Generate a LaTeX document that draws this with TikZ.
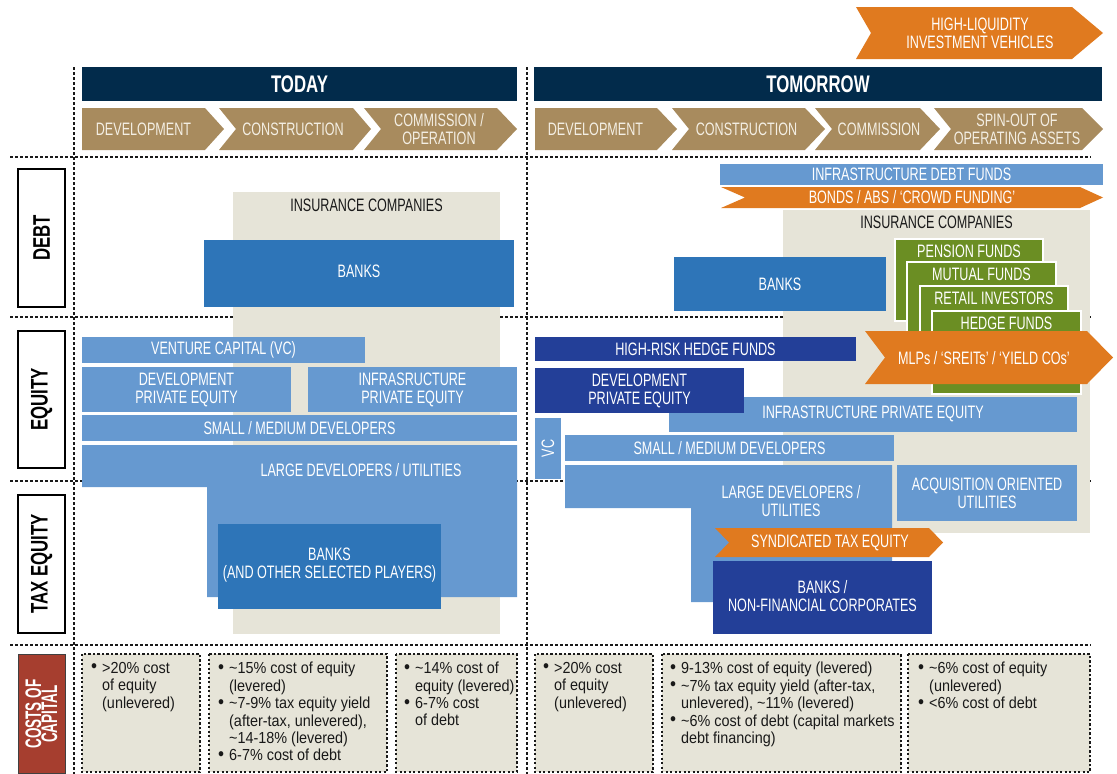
\documentclass[tikz,border=0pt]{standalone}
\usepackage{fontspec}
\setmainfont{Liberation Sans}[FakeStretch=0.7]
\newfontfamily\costfont{Liberation Sans}[FakeStretch=0.9]
\newfontfamily\narrowfont{Liberation Sans}[FakeStretch=0.6]
\usepackage{tikz}

\definecolor{navy}{HTML}{022B4B}
\definecolor{tan}{HTML}{A88B5E}
\definecolor{chevwhite}{HTML}{F4EFE4}
\definecolor{orng}{HTML}{E07A1F}
\definecolor{bankblue}{HTML}{2E75B8}
\definecolor{lightblue}{HTML}{6699D0}
\definecolor{darkblue}{HTML}{233F98}
\definecolor{olive}{HTML}{6B8E23}
\definecolor{beige}{HTML}{E6E4D8}
\definecolor{brick}{HTML}{A63E2F}

\newcommand{\bul}{\makebox[11pt][l]{\raisebox{0.5pt}{\fontsize{19}{17}\selectfont •}}}
\newcommand{\cind}{\hspace*{11pt}}

\tikzset{
  dotline/.style={line width=2.8pt, dash pattern=on 2.6pt off 2.4pt, black!90},
  costbox/.style={fill=beige, draw=black!90, line width=2.2pt, dash pattern=on 2.2pt off 2.3pt},
  boxtext/.style={text=white, align=center, inner sep=0pt, font=\fontsize{18}{18}\selectfont},
  chevtext/.style={text=chevwhite, align=center, inner sep=0pt, font=\fontsize{18}{18}\selectfont},
  headtext/.style={text=white, inner sep=0pt, font=\fontsize{24}{24}\selectfont\bfseries},
  sidelabel/.style={rotate=90, inner sep=0pt, align=center, font=\fontsize{24}{24}\selectfont\bfseries},
  costtext/.style={anchor=north west, align=left, inner sep=0pt, text=black!90, font=\costfont\fontsize{16}{17.4}\selectfont},
}

\begin{document}
\begin{tikzpicture}[x=1pt, y=-1pt]
    \useasboundingbox (0,0) rectangle (1117,774);

    % grid of dotted lines
    \draw [dotline] (74,67) -- (74,774);
    \draw [dotline] (527,67) -- (527,774);
    \draw [dotline] (10,157) -- (1091,157);
    \draw [dotline] (10,317) -- (1091,317);
    \draw [dotline] (10,481) -- (1091,481);
    \draw [dotline] (10,645) -- (1091,645);

    % insurance companies backgrounds
    \fill [beige] (233,192) rectangle (500,634);
    \node [text=black!90, inner sep=0pt, font=\fontsize{18}{18}\selectfont] (tins) at (366.5,205) {INSURANCE COMPANIES};
    \fill [beige] (783,210) rectangle (1090,533);
    \node [text=black!90, inner sep=0pt, font=\fontsize{18}{18}\selectfont] (mins) at (936.5,222) {INSURANCE COMPANIES};

    % row labels
    \draw [line width=1.5pt, fill=white] (18,169) rectangle (65,307);
    \node [sidelabel] (debt) at (41.5,238) {DEBT};
    \draw [line width=1.5pt, fill=white] (18,331) rectangle (65,468);
    \node [sidelabel] (equity) at (41.5,399.5) {EQUITY};
    \draw [line width=1.5pt, fill=white] (18,495) rectangle (65,633);
    \node [sidelabel] (taxeq) at (41.5,564) {TAX EQUITY};
    \draw [line width=1pt, draw=black!75, fill=brick] (18,654) rectangle (65,773);
    \node [sidelabel, text=white, font=\narrowfont\fontsize{22.5}{16}\selectfont\bfseries] (costs) at (41.5,714) {COSTS OF\\CAPITAL};

    % headers
    \fill [navy] (82,67) rectangle (517,101);
    \node [headtext] (today) at (299.5,84) {TODAY};
    \fill [navy] (534,67) rectangle (1102,101);
    \node [headtext] (tomorrow) at (818,84) {TOMORROW};

    \fill [orng] (856,7) -- (1072,7) -- (1103,33) -- (1072,59) -- (856,59) -- (871,33) -- cycle;
    \node [boxtext] (liquid) at (980,33) {HIGH-LIQUIDITY\\INVESTMENT VEHICLES};

    % stages today
    \fill [tan] (82,108) -- (205,108) -- (224,129) -- (205,150) -- (82,150) -- cycle;
    \fill [tan] (219,108) -- (353,108) -- (371,129) -- (353,150) -- (219,150) -- (236,129) -- cycle;
    \fill [tan] (364,108) -- (497,108) -- (517,129) -- (497,150) -- (364,150) -- (381,129) -- cycle;
    \node [chevtext] (tdev) at (143.5,129) {DEVELOPMENT};
    \node [chevtext] (tcon) at (293,129) {CONSTRUCTION};
    \node [chevtext] (tcom) at (439,129) {COMMISSION /\\OPERATION};

    % stages tomorrow
    \fill [tan] (535,108) -- (657,108) -- (677,129) -- (657,150) -- (535,150) -- cycle;
    \fill [tan] (672,108) -- (805,108) -- (825,129) -- (805,150) -- (672,150) -- (689,129) -- cycle;
    \fill [tan] (815,108) -- (920,108) -- (940,129) -- (920,150) -- (815,150) -- (832,129) -- cycle;
    \fill [tan] (934,108) -- (1082,108) -- (1103,129) -- (1082,150) -- (934,150) -- (951,129) -- cycle;
    \node [chevtext] (mdev) at (595.5,129) {DEVELOPMENT};
    \node [chevtext] (mcon) at (746.5,129) {CONSTRUCTION};
    \node [chevtext] (mcom) at (879,129) {COMMISSION};
    \node [chevtext] (mspin) at (1017,129) {SPIN-OUT OF\\OPERATING ASSETS};

    % today players
    \fill [bankblue] (204,240) rectangle (514,307);
    \node [boxtext] (tbanks) at (359,271) {BANKS};
    \fill [lightblue] (82,337) rectangle (365,363);
    \node [boxtext] (tvc) at (223.5,350) {VENTURE CAPITAL (VC)};
    \fill [lightblue] (82,367) rectangle (291,412);
    \node [boxtext] (tdevpe) at (186.5,389.5) {DEVELOPMENT\\PRIVATE EQUITY};
    \fill [lightblue] (308,367) rectangle (517,412);
    \node [boxtext] (tinfpe) at (412.5,389.5) {INFRASRUCTURE\\PRIVATE EQUITY};
    \fill [lightblue] (82,415) rectangle (517,441);
    \node [boxtext] (tsmall) at (299.5,428) {SMALL / MEDIUM DEVELOPERS};
    \fill [lightblue] (82,445) -- (517,445) -- (517,597) -- (207,597) -- (207,487) -- (82,487) -- cycle;
    \node [boxtext] (tlarge) at (361,470) {LARGE DEVELOPERS / UTILITIES};
    \fill [bankblue] (218,524) rectangle (441,609);
    \node [boxtext] (ttaxbanks) at (329.5,565) {BANKS\\(AND OTHER SELECTED PLAYERS)};

    % tomorrow players, debt
    \fill [lightblue] (720,164) rectangle (1103,185);
    \node [boxtext] (mdebtf) at (911.5,174.5) {INFRASTRUCTURE DEBT FUNDS};
    \fill [orng] (721,187) -- (1080,187) -- (1103,197.5) -- (1080,208) -- (721,208) -- (745,197.5) -- cycle;
    \node [boxtext] (mbonds) at (912,197.5) {BONDS / ABS / ‘CROWD FUNDING’};
    \fill [bankblue] (674,257) rectangle (886,311);
    \node [boxtext] (mbanks) at (780,284) {BANKS};

    \draw [fill=olive, draw=white, line width=1.5pt] (895,239) rectangle (1043,321);
    \node [boxtext] (pension) at (969,251) {PENSION FUNDS};
    \draw [fill=olive, draw=white, line width=1.5pt] (907,262) rectangle (1056,345);
    \node [boxtext] (mutual) at (981.5,274) {MUTUAL FUNDS};
    \draw [fill=olive, draw=white, line width=1.5pt] (920,286) rectangle (1068,370);
    \node [boxtext] (retail) at (994,298) {RETAIL INVESTORS};
    \draw [fill=olive, draw=white, line width=1.5pt] (932,311) rectangle (1081,394);
    \node [boxtext] (hedge) at (1006.5,323) {HEDGE FUNDS};
    \fill [orng] (865,331) -- (1087,331) -- (1113,357.5) -- (1087,384) -- (865,384) -- (885,357.5) -- cycle;
    \node [boxtext] (mlps) at (984,358) {MLPs / ‘SREITs’ / ‘YIELD COs’};

    % tomorrow players, equity
    \fill [darkblue] (535,337) rectangle (856,361);
    \node [boxtext] (mhrisk) at (695.5,349) {HIGH-RISK HEDGE FUNDS};
    \fill [lightblue] (669,397) rectangle (1077,432);
    \node [boxtext] (minfpe) at (873,414) {INFRASTRUCTURE PRIVATE EQUITY};
    \fill [darkblue] (535,368) rectangle (744,413);
    \node [boxtext] (mdevpe) at (639.5,390.5) {DEVELOPMENT\\PRIVATE EQUITY};
    \fill [lightblue] (535,418) rectangle (561,479);
    \node [boxtext, rotate=90] (mvc) at (548,448.5) {VC};
    \fill [lightblue] (565,435) rectangle (894,461);
    \node [boxtext] (msmall) at (729.5,448) {SMALL / MEDIUM DEVELOPERS};
    \fill [lightblue] (565,465) -- (892,465) -- (892,602) -- (691,602) -- (691,508) -- (565,508) -- cycle;
    \node [boxtext] (mlarge) at (791,501) {LARGE DEVELOPERS /\\UTILITIES};
    \fill [lightblue] (897,465) rectangle (1077,521);
    \node [boxtext] (macq) at (987,493) {ACQUISITION ORIENTED\\UTILITIES};

    % tomorrow players, tax equity
    \fill [orng] (715,528) -- (929,528) -- (943,542.5) -- (929,557) -- (715,557) -- (729,542.5) -- cycle;
    \node [boxtext] (msynd) at (830,542.5) {SYNDICATED TAX EQUITY};
    \fill [darkblue] (713,561) rectangle (932,634);
    \node [boxtext] (mtaxbanks) at (822.5,596) {BANKS /\\NON-FINANCIAL CORPORATES};

    % costs of capital
    \draw [costbox] (82,654) rectangle (200,772);
    \draw [costbox] (209,654) rectangle (387,772);
    \draw [costbox] (396,654) rectangle (517,772);
    \draw [costbox] (535,654) rectangle (653,772);
    \draw [costbox] (662,654) rectangle (901,772);
    \draw [costbox] (908,654) rectangle (1090,772);

    \node [costtext] (c1) at (91,662) {\bul >20\% cost\\\cind of equity\\\cind (unlevered)};
    \node [costtext] (c2) at (218,662) {\bul \textasciitilde15\% cost of equity\\\cind (levered)\\\bul \textasciitilde7-9\% tax equity yield\\\cind (after-tax, unlevered),\\\cind \textasciitilde14-18\% (levered)\\\bul 6-7\% cost of debt};
    \node [costtext] (c3) at (404,662) {\bul \textasciitilde14\% cost of\\\cind equity (levered)\\\bul 6-7\% cost\\\cind of debt};
    \node [costtext] (c4) at (543,662) {\bul >20\% cost\\\cind of equity\\\cind (unlevered)};
    \node [costtext] (c5) at (670,662) {\bul 9-13\% cost of equity (levered)\\\bul \textasciitilde7\% tax equity yield (after-tax,\\\cind unlevered), \textasciitilde11\% (levered)\\\bul \textasciitilde6\% cost of debt (capital markets\\\cind debt financing)};
    \node [costtext] (c6) at (918,662) {\bul \textasciitilde6\% cost of equity\\\cind (unlevered)\\\bul <6\% cost of debt};
\end{tikzpicture}
\end{document}
